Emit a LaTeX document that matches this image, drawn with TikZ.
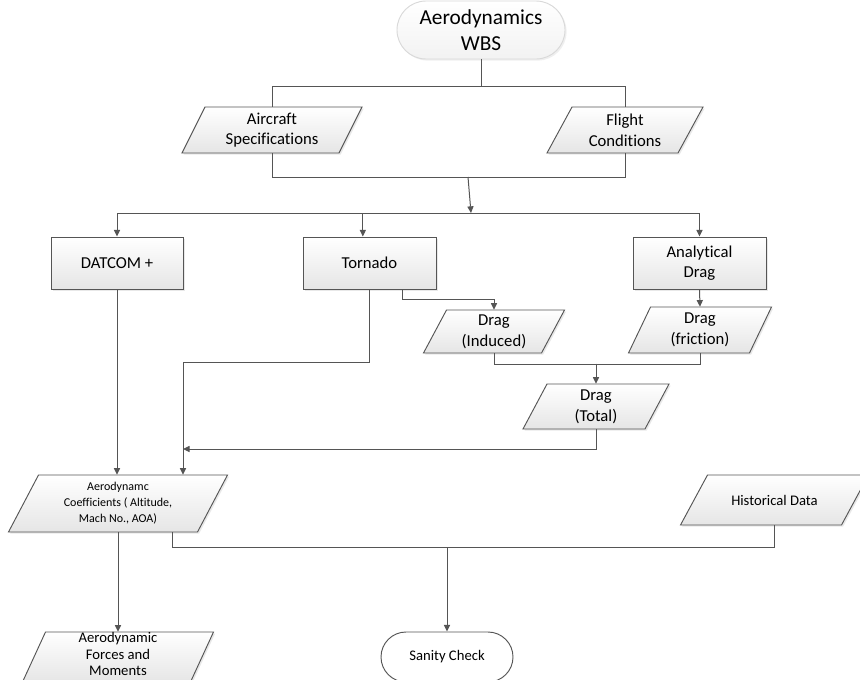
\documentclass[tikz,border=0pt]{standalone}
\usepackage{fontspec}
\setmainfont{Carlito}[Ligatures=NoCommon]
\usetikzlibrary{arrows.meta,shapes.misc,shadows}
\definecolor{lc}{RGB}{85,85,85}
\tikzset{
  ln/.style={draw=lc, line width=0.75pt},
  arr/.style={ln, -{Triangle[length=5pt,width=4.6pt]}},
  boxshape/.style={draw=lc, line width=0.7pt, top color=white, bottom color=gray!20,
     drop shadow={opacity=0.18, shadow xshift=1.2pt, shadow yshift=-1.2pt}},
  txt/.style={align=center, inner sep=0pt, text=black},
  rectbox/.style={boxshape, rectangle, align=center, inner sep=0pt,
     minimum width=133*0.75pt, minimum height=52*0.75pt, font=\fontsize{12.5}{15.5}\selectfont},
}
% name, cx, cy, w, h, slant, font, text
\newcommand\ParaBox[8]{%
  \path[boxshape] (#2-#4/2-#6/2,#3+#5/2) -- (#2+#4/2-#6/2,#3+#5/2) -- (#2+#4/2+#6/2,#3-#5/2) -- (#2-#4/2+#6/2,#3-#5/2) -- cycle;
  \node[txt, font=#7, minimum width=#4*0.75pt, minimum height=#5*0.75pt] (#1) at (#2,#3) {#8};}
\begin{document}
\begin{tikzpicture}[x=0.75pt,y=-0.75pt]
\clip (0,0) rectangle (860,679);
\fill[white] (0,0) rectangle (860,679);

% top terminator
\node[rounded rectangle, draw=gray!30, line width=0.7pt, top color=white, bottom color=gray!10,
  drop shadow={opacity=0.12, shadow xshift=1.2pt, shadow yshift=-1.2pt},
  minimum width=168*0.75pt, minimum height=58*0.75pt, inner sep=0pt, align=center,
  font=\fontsize{16}{20}\selectfont] (wbs) at (481,30) {Aerodynamics\\WBS};

\ParaBox{air}{272}{130}{157}{46}{23}{\fontsize{12.5}{15.5}\selectfont}{Aircraft\\Specifications}
\ParaBox{flt}{625}{130}{131}{46}{25}{\fontsize{12.5}{15.5}\selectfont}{Flight\\Conditions}

\node[rectbox, minimum width=132*0.75pt] (dat) at (117,263) {DATCOM +};
\node[rectbox] (tor) at (369.5,263) {Tornado};
\node[rectbox] (ana) at (699.5,263) {Analytical\\Drag};

\ParaBox{ind}{494}{331.5}{118}{43}{23}{\fontsize{12.5}{15.5}\selectfont}{Drag\\(Induced)}
\ParaBox{fri}{700}{330}{121}{46}{22}{\fontsize{12.5}{15.5}\selectfont}{Drag\\(friction)}
\ParaBox{tot}{596}{406.5}{122}{45}{24}{\fontsize{12.5}{15.5}\selectfont}{Drag\\(Total)}

\ParaBox{coef}{118}{503.5}{189}{57}{30}{\fontsize{9}{12}\selectfont}{Aerodynamc\\Coefficients ( Altitude,\\Mach No., AOA)}
\ParaBox{his}{774.5}{500}{161}{50}{27}{\fontsize{11}{13}\selectfont}{Historical Data}
\ParaBox{forc}{118}{657}{168}{50}{23}{\fontsize{11}{12.4}\selectfont}{}
\node[txt, font=\fontsize{11}{12.4}\selectfont] (forctext) at ([yshift=2.2pt]forc) {Aerodynamic\\Forces and\\Moments};

\node[rounded rectangle, draw=lc, line width=0.7pt, fill=white,
  minimum width=132*0.75pt, minimum height=50*0.75pt, inner sep=0pt,
  font=\fontsize{11}{13}\selectfont] (san) at (447,657) {Sanity Check};

% connectors
\coordinate (j1) at (481,86);
\draw[ln] (wbs.south) -- (j1);
\draw[ln] (j1) -| (air.north);
\draw[ln] (j1) -| (flt.north);
\draw[ln] (air.south) -- ++(0,24) -| (flt.south);
\coordinate (j2) at (468,177);
\coordinate (j3) at (471,213);
\draw[arr] (j2) -- (j3);
\draw[ln] (dat.north |- j3) -- (ana.north |- j3);
\draw[arr] (dat.north |- j3) -- (dat.north);
\draw[arr] ([xshift=-5pt]tor.north |- j3) -- ([xshift=-5pt]tor.north);
\draw[arr] (ana.north |- j3) -- (ana.north);

\draw[arr] ([xshift=25pt]tor.south) -- ++(0,10) -| (ind.north);
\draw[arr] (ana.south) -- (fri.north);
\draw[ln] (ind.south) -- ++(0,11) -| (fri.south);
\draw[arr] ([yshift=15pt]tot.north) -- (tot.north);

\coordinate (k) at (183,449);
\draw[arr] (tot.south) |- (k);
\draw[arr] (tor.south) -- ++(0,73) -| ([xshift=48.75pt]coef.north);
\draw[arr] (dat.south) -- (dat.south |- coef.north);

\draw[arr] (coef.south) -- (forc.north);
\draw[ln] ([xshift=40.5pt]coef.south) -- ++(0,15) -| (his.south);
\coordinate (m) at (447,547);
\draw[arr] (m) -- (san.north);
\end{tikzpicture}
\end{document}
